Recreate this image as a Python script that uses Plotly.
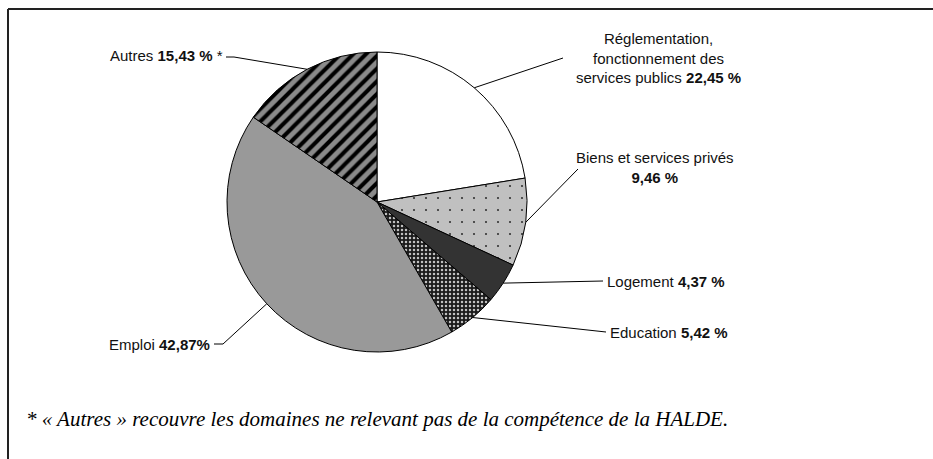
import math
import plotly.graph_objects as go

# ---- data ----
categories = ["Réglementation, fonctionnement des services publics",
              "Biens et services privés", "Logement", "Education", "Emploi", "Autres"]
values = [22.45, 9.46, 4.37, 5.42, 42.87, 15.43]
value_labels = ["22,45 %", "9,46 %", "4,37 %", "5,42 %", "42,87%", "15,43 %"]
label_texts = [
    "Réglementation,<br>fonctionnement des<br>services publics <b>{}</b>",
    "Biens et services privés<br><b>{}</b>",
    "Logement <b>{}</b>",
    "Education <b>{}</b>",
    "Emploi <b>{}</b>",
    "Autres <b>{}</b> *",
]
footnote = "* « Autres » recouvre les domaines ne relevant pas de la compétence de la HALDE."

# ---- layout constants (pixels) ----
W, H = 933, 459
CX, CY, R = 377, 202, 150

def px(x):
    return x / W

def py(y):
    return 1 - y / H

colors = ["#ffffff", "#c0c0c0", "#333333", "#1a1a1a", "#999999", "#8a8a8a"]
pat_shape = ["", ".", "", ".", "", "/"]
pat_fg = ["#ffffff", "#333333", "#333333", "#c0c0c0", "#999999", "#000000"]
pat_bg = ["#ffffff", "#c0c0c0", "#333333", "#1a1a1a", "#999999", "#8a8a8a"]
pat_size = [8, 12, 8, 4, 8, 9]
pat_sol = [0.3, 0.025, 0.3, 0.3, 0.3, 0.45]

fig = go.Figure()
fig.add_trace(go.Pie(
    labels=categories, values=values, sort=False, direction="clockwise", rotation=0,
    textinfo="none", hoverinfo="skip", showlegend=False,
    domain=dict(x=[px(CX - R), px(CX + R)], y=[py(CY + R), py(CY - R)]),
    marker=dict(colors=colors, line=dict(color="#000000", width=1),
                pattern=dict(shape=pat_shape, fgcolor=pat_fg, bgcolor=pat_bg,
                             size=pat_size, solidity=pat_sol)),
))

# label placements (pixels): leader path points after edge, annotation anchor
placements = [
    dict(path=[(563, 58)], x=658, y=58, xa="center", align="center"),
    dict(path=[(578, 169)], x=655, y=167, xa="center", align="center"),
    dict(path=[(603, 281)], x=605, y=281, xa="left", align="left"),
    dict(path=[(606, 332)], x=608, y=332, xa="left", align="left"),
    dict(path=[(223, 344), (214, 344)], x=212, y=344, xa="right", align="right"),
    dict(path=[(234, 57), (226, 57)], x=225, y=56, xa="right", align="right"),
]

total = sum(values)
cum = 0
shapes = []
annotations = []
for i, v in enumerate(values):
    mid = (cum + v / 2) / total * 2 * math.pi
    cum += v
    ex = CX + R * math.sin(mid)
    ey = CY - R * math.cos(mid)
    pts = [(ex, ey)] + placements[i]["path"]
    d = "M {} {} ".format(px(pts[0][0]), py(pts[0][1])) + " ".join(
        "L {} {}".format(px(a), py(b)) for a, b in pts[1:])
    shapes.append(dict(type="path", xref="paper", yref="paper", path=d,
                       line=dict(color="#000000", width=1)))
    p = placements[i]
    annotations.append(dict(
        x=px(p["x"]), y=py(p["y"]), xref="paper", yref="paper",
        xanchor=p["xa"], yanchor="middle", align=p["align"], showarrow=False,
        text=label_texts[i].format(value_labels[i]),
        font=dict(family="Liberation Sans, Arial", size=15, color="#111111")))

annotations.append(dict(
    x=px(24), y=py(419), xref="paper", yref="paper", xanchor="left", yanchor="middle",
    showarrow=False, text="<i>" + footnote + "</i>",
    font=dict(family="Liberation Serif, Times New Roman", size=21, color="#000000")))

# outer frame (top and left edges visible)
shapes.append(dict(type="line", xref="paper", yref="paper",
                   x0=px(8), y0=py(9), x1=1.0, y1=py(9),
                   line=dict(color="#222222", width=2)))
shapes.append(dict(type="line", xref="paper", yref="paper",
                   x0=px(8), y0=py(9), x1=px(8), y1=0,
                   line=dict(color="#222222", width=2)))

fig.update_layout(
    width=W, height=H, margin=dict(l=0, r=0, t=0, b=0),
    paper_bgcolor="#ffffff", plot_bgcolor="#ffffff",
    shapes=shapes, annotations=annotations,
)
fig.write_html("out.html", config={"displayModeBar": False},
               post_script="document.body.style.margin='0';")
